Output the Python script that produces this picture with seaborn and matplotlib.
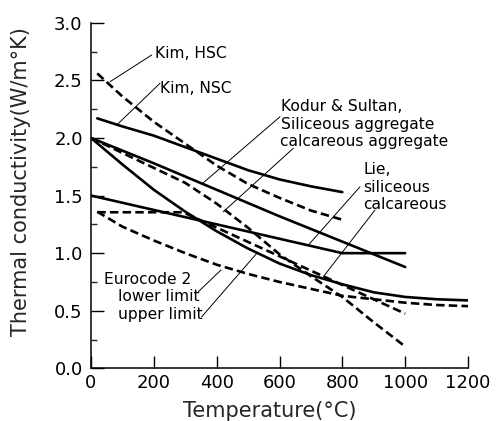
import matplotlib
matplotlib.use("Agg")
import matplotlib.pyplot as plt
from matplotlib.ticker import MultipleLocator
import seaborn as sns
import pandas as pd

# ---- data ----
kim_hsc_T = [20, 100, 200, 300, 400, 500, 600, 700, 800]
kim_hsc_k = [2.56, 2.36, 2.14, 1.95, 1.76, 1.60, 1.48, 1.37, 1.29]

kim_nsc_T = [20, 100, 200, 300, 400, 500, 600, 700, 800]
kim_nsc_k = [2.17, 2.10, 2.02, 1.92, 1.82, 1.72, 1.64, 1.58, 1.53]

kodur_sil_T = [0, 200, 400, 600, 800, 900, 1000]
kodur_sil_k = [2.00, 1.78, 1.55, 1.32, 1.10, 0.99, 0.88]

kodur_cal_T = [0, 100, 200, 300, 400, 500, 600, 700, 800, 900, 1000]
kodur_cal_k = [2.00, 1.87, 1.74, 1.61, 1.43, 1.22, 0.99, 0.80, 0.62, 0.40, 0.19]

lie_sil_T = [0, 800, 1000]
lie_sil_k = [1.50, 1.00, 1.00]

lie_cal_T = [20, 293, 1000]
lie_cal_k = [1.355, 1.355, 0.475]

ec_upper_T = [0, 100, 200, 300, 400, 500, 600, 700, 800, 900, 1000, 1100, 1200]
ec_upper_k = [2.00, 1.77, 1.55, 1.36, 1.19, 1.04, 0.91, 0.81, 0.73, 0.66, 0.62, 0.60, 0.59]

ec_lower_T = [20, 100, 200, 300, 400, 500, 600, 700, 800, 900, 1000, 1100, 1200]
ec_lower_k = [1.36, 1.23, 1.11, 1.00, 0.90, 0.82, 0.75, 0.69, 0.63, 0.60, 0.57, 0.55, 0.54]

x_ticks = [0, 200, 400, 600, 800, 1000, 1200]
y_ticks = [0.0, 0.5, 1.0, 1.5, 2.0, 2.5, 3.0]

series = {
    "Kim HSC": (kim_hsc_T, kim_hsc_k, "dashed"),
    "Kim NSC": (kim_nsc_T, kim_nsc_k, "solid"),
    "Kodur siliceous": (kodur_sil_T, kodur_sil_k, "solid"),
    "Kodur calcareous": (kodur_cal_T, kodur_cal_k, "dashed"),
    "Lie siliceous": (lie_sil_T, lie_sil_k, "solid"),
    "Lie calcareous": (lie_cal_T, lie_cal_k, "dashed"),
    "EC2 upper": (ec_upper_T, ec_upper_k, "solid"),
    "EC2 lower": (ec_lower_T, ec_lower_k, "dashed"),
}

rows = []
for name, (T, k, _) in series.items():
    for t, v in zip(T, k):
        rows.append({"series": name, "T": t, "k": v})
df = pd.DataFrame(rows)

sns.set_style("ticks")
plt.rcParams["font.family"] = ["DejaVu Sans"]

fig = plt.figure(figsize=(5.0, 4.21), dpi=100)
ax = fig.add_axes([0.182, 0.125, 0.754, 0.821])

palette = {name: "black" for name in series}
dashes = {name: ("" if s == "solid" else (3.2, 1.6)) for name, (_, _, s) in series.items()}

sns.lineplot(data=df, x="T", y="k", hue="series", style="series",
             palette=palette, dashes=dashes, linewidth=1.9,
             errorbar=None, legend=False, ax=ax)

ax.set_xlim(0, 1200)
ax.set_ylim(0, 3.0)
ax.set_xticks(x_ticks)
ax.set_xticklabels([str(t) for t in x_ticks])
ax.set_yticks(y_ticks)
ax.set_yticklabels([f"{t:.1f}" for t in y_ticks])
ax.yaxis.set_minor_locator(MultipleLocator(0.25))

sns.despine(ax=ax)
for sp in ("left", "bottom"):
    ax.spines[sp].set_linewidth(1.1)
    ax.spines[sp].set_color("black")

ax.tick_params(axis="both", which="major", direction="in", length=9,
               width=1.0, colors="black", labelsize=13)
ax.tick_params(axis="y", which="major", pad=6)
ax.tick_params(axis="x", which="major", pad=4)
ax.tick_params(axis="y", which="minor", direction="in", length=4, width=1.0)

ax.set_xlabel("Temperature(°C)", fontsize=15, labelpad=0)
ax.set_ylabel("Thermal conductivity(W/m°K)", fontsize=15, labelpad=6)
ax.xaxis.set_label_coords(0.475, -0.095)
ax.yaxis.set_label_coords(-0.16, 0.54)

# ---- annotations ----
fs = 11.2
texts = [
    ("Kim, HSC", 203.7, 2.694),
    ("Kim, NSC", 219.6, 2.390),
    ("Kodur & Sultan,", 604.8, 2.238),
    ("Siliceous aggregate", 604.8, 2.077),
    ("calcareous aggregate", 601.6, 1.930),
    ("Lie,", 866.7, 1.687),
    ("siliceous", 866.7, 1.535),
    ("calcareous", 866.7, 1.383),
    ("Eurocode 2", 41.4, 0.732),
    ("lower limit", 86.9, 0.589),
    ("upper limit", 86.9, 0.428),
]
for s, x, y in texts:
    ax.text(x, y, s, fontsize=fs, ha="left", va="baseline", color="black")

leaders = [
    ((193.2, 2.720), (60.5, 2.488)),
    ((219.6, 2.474), (81.8, 2.112)),
    ((601.6, 2.184), (357.5, 1.611)),
    ((643.9, 1.910), (421.1, 1.359)),
    ((856.2, 1.576), (691.7, 1.070)),
    ((903.9, 1.374), (739.4, 0.795)),
    ((341.5, 0.665), (413.8, 0.854)),
    ((352.4, 0.448), (527.4, 0.998)),
]
for (x0, y0), (x1, y1) in leaders:
    ax.plot([x0, x1], [y0, y1], color="black", linewidth=0.7)

fig.savefig("out.png", dpi=100)
